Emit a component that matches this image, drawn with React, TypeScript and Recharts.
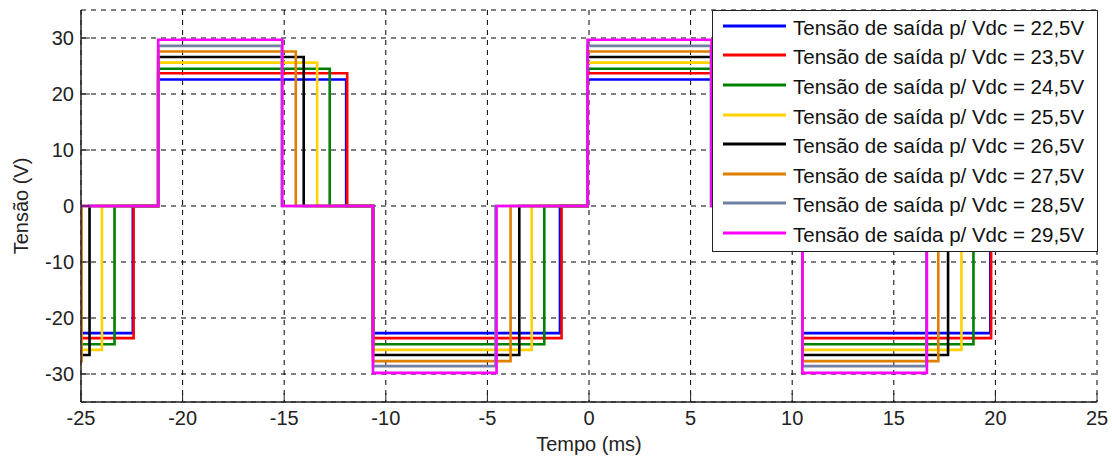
import { CartesianGrid, Legend, Line, LineChart, XAxis, YAxis } from "recharts";

// valores (ms e V)
const vdc = ["22,5", "23,5", "24,5", "25,5", "26,5", "27,5", "28,5", "29,5"];
const cores = ["#0000ff", "#ff0000", "#008000", "#ffd200", "#000000", "#df7f00", "#7080a2", "#ff00ff"];

const nivelPositivo = [22.6, 23.7, 24.5, 25.6, 26.6, 27.6, 28.6, 29.7];
const nivelNegativo = [-22.7, -23.6, -24.7, -25.7, -26.6, -27.7, -28.6, -29.8];

// bordas de subida comuns a todas as curvas
const inicioPositivo = [-21.2, -0.07];
const inicioNegativo = [-10.63, 10.5];

// fim de cada pulso, por curva
const fimNegativoInicial = [-22.45, -22.41, -23.35, -23.97, -24.58, -24.97, null, null];
const fimPositivo1 = [-11.95, -11.9, -12.76, -13.38, -14.04, -14.43, -15.12, -15.09];
const fimNegativo1 = [-1.43, -1.35, -2.2, -2.82, -3.43, -3.86, -4.6, -4.55];
const fimPositivo2 = [9.16, 9.23, 8.37, 7.75, 7.09, 6.7, 6.0, 6.03];
const fimNegativo2 = [19.75, 19.79, 18.92, 18.33, 17.67, 17.19, 16.6, 16.63];

const ticksTempo = [-25, -20, -15, -10, -5, 0, 5, 10, 15, 20, 25];
const ticksTensao = [-30, -20, -10, 0, 10, 20, 30];

type Ponto = { t: number; v: number };

function montarCurva(i: number): Ponto[] {
  const pos = nivelPositivo[i];
  const neg = nivelNegativo[i];
  const pts: Ponto[] = [];
  const f0 = fimNegativoInicial[i];
  if (f0 !== null) {
    pts.push({ t: -25, v: neg }, { t: f0, v: neg }, { t: f0, v: 0 });
  } else {
    pts.push({ t: -25, v: 0 });
  }
  const pulsos: [number, number, number][] = [
    [inicioPositivo[0], fimPositivo1[i], pos],
    [inicioNegativo[0], fimNegativo1[i], neg],
    [inicioPositivo[1], fimPositivo2[i], pos],
    [inicioNegativo[1], fimNegativo2[i], neg],
  ];
  for (const [a, b, nivel] of pulsos) {
    pts.push({ t: a, v: 0 }, { t: a, v: nivel }, { t: b, v: nivel }, { t: b, v: 0 });
  }
  pts.push({ t: 25, v: 0 });
  return pts;
}

const curvas = vdc.map((_, i) => montarCurva(i));

const fonte = "'Liberation Sans', Arial, sans-serif";
const eixo = "#222";

function Legenda({ payload }: any) {
  return (
    <div
      style={{
        boxSizing: "border-box",
        width: 386,
        height: 242,
        border: "1px solid #222",
        background: "#fff",
        paddingTop: 2,
        fontSize: 20.5,
        fontFamily: fonte,
        color: "#111",
      }}
    >
      {(payload ?? []).map((p: any) => (
        <div key={p.value} style={{ display: "flex", alignItems: "center", height: 29.6 }}>
          <svg width={63} height={10} style={{ marginLeft: 10, marginRight: 7, display: "block" }}>
            <line x1={0} y1={3} x2={63} y2={3} stroke={p.color} strokeWidth={3} />
          </svg>
          <span style={{ whiteSpace: "nowrap" }}>{p.value}</span>
        </div>
      ))}
    </div>
  );
}

export default function App() {
  return (
    <div
      style={{
        position: "absolute",
        left: 0,
        top: 0,
        width: 1112,
        height: 459,
        background: "#fff",
        fontFamily: fonte,
      }}
    >
      <LineChart width={1112} height={459} margin={{ top: 10, right: 15, left: 1, bottom: 0 }}>
        <CartesianGrid stroke="#000" strokeDasharray="5 5" />
        <XAxis
          dataKey="t"
          type="number"
          domain={[-25, 25]}
          ticks={ticksTempo}
          allowDataOverflow
          height={57}
          axisLine={{ stroke: eixo, strokeWidth: 1.5 }}
          tickLine={{ stroke: eixo }}
          tickSize={-9}
          tickMargin={18}
          tick={{ fontSize: 20, fill: "#222" }}
          label={{ value: "Tempo (ms)", position: "insideBottom", offset: 8, fontSize: 20, fill: "#222" }}
        />
        <XAxis
          xAxisId="topo"
          orientation="top"
          type="number"
          domain={[-25, 25]}
          ticks={ticksTempo}
          allowDataOverflow
          height={0}
          axisLine={{ stroke: eixo, strokeWidth: 1.5 }}
          tickLine={{ stroke: eixo }}
          tickSize={-9}
          tick={false}
        />
        <YAxis
          type="number"
          domain={[-35, 35]}
          ticks={ticksTensao}
          allowDataOverflow
          width={80}
          axisLine={{ stroke: eixo, strokeWidth: 1.5 }}
          tickLine={{ stroke: eixo }}
          tickSize={-9}
          tickMargin={16}
          tick={{ fontSize: 20, fill: "#222" }}
          label={{
            value: "Tensão (V)",
            angle: -90,
            position: "insideLeft",
            offset: 20,
            fontSize: 20,
            fill: "#222",
            style: { textAnchor: "middle" },
          }}
        />
        <YAxis
          yAxisId="direita"
          orientation="right"
          type="number"
          domain={[-35, 35]}
          ticks={ticksTensao}
          allowDataOverflow
          width={0}
          axisLine={{ stroke: eixo, strokeWidth: 1.5 }}
          tickLine={{ stroke: eixo }}
          tickSize={-9}
          tick={false}
        />
        {curvas.map((dados, i) => (
          <Line
            key={vdc[i]}
            data={dados}
            dataKey="v"
            type="linear"
            name={`Tensão de saída p/ Vdc = ${vdc[i]}V`}
            stroke={cores[i]}
            strokeWidth={2.6}
            dot={false}
            activeDot={false}
            isAnimationActive={false}
          />
        ))}
        <Legend
          layout="vertical"
          align="center"
          verticalAlign="middle"
          content={(props: any) => <Legenda {...props} />}
          wrapperStyle={{ left: 712, top: 10, width: 386, height: 242 }}
        />
      </LineChart>
    </div>
  );
}
